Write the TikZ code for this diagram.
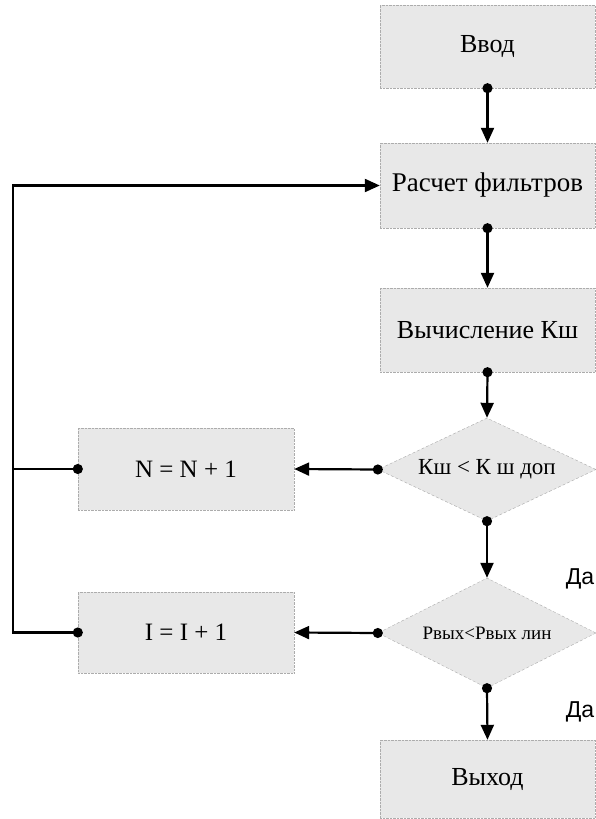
\documentclass[tikz,border=0pt]{standalone}
\usepackage{fontspec}
\setmainfont{Liberation Serif}
\newfontfamily\dafont{Liberation Sans}
\usetikzlibrary{shapes.geometric,arrows.meta,positioning}

\tikzset{
  blok/.style={rectangle, draw=gray!65, densely dotted, fill=gray!18,
    minimum width=215pt, minimum height=83pt, inner sep=0pt,
    font=\fontsize{26}{30}\selectfont},
  romb/.style={diamond, draw=gray!65, densely dashed, fill=gray!18,
    minimum width=218pt, aspect=2, inner sep=0pt},
  svyaz/.style={line width=2.2pt, solid,
    {Circle[length=10pt]}-{Triangle[length=15pt,width=13pt]}, shorten <=-5pt},
  vetka/.style={line width=2.2pt, solid, {Circle[length=10pt]}-, shorten <=-5pt},
  da/.style={font=\dafont\fontsize{23}{26}\selectfont}
}

\begin{document}
\begin{tikzpicture}[x=1pt,y=-1pt]
  \useasboundingbox (0,0) rectangle (596,819);
  % main column
  \node[blok] (vvod) at (487.5,46.5) {Ввод};
  \node[blok, minimum height=85pt, font=\fontsize{27}{31}\selectfont] (raschet) at (487.5,185.5) {Расчет фильтров};
  \node[blok, minimum height=84pt] (kshum) at (487.5,330) {Вычисление Кш};
  \node[romb, minimum height=103pt, font=\fontsize{23}{26}\selectfont] (usl1) at (487,469.5) {Кш < К ш доп};
  \node[romb, minimum height=110pt, font=\fontsize{19}{22}\selectfont] (usl2) at (487,633) {Рвых<Рвых лин};
  \node[blok, minimum height=78pt] (vyhod) at (487.5,779) {Выход};
  % left column
  \node[blok, minimum width=216pt, minimum height=82pt, font=\fontsize{25}{29}\selectfont] (nbox) at (186,469) {N = N + 1};
  \node[blok, minimum width=216pt, minimum height=81pt, font=\fontsize{25}{29}\selectfont] (ibox) at (186,632.5) {I = I + 1};
  \coordinate (ugol) at (13,632.5);

  \draw[svyaz] (vvod.south) -- (raschet.north);
  \draw[svyaz] (raschet.south) -- (kshum.north);
  \draw[svyaz] (kshum.south) -- (usl1.north);
  \draw[svyaz] (usl1.south) -- (usl2.north);
  \draw[svyaz] (usl2.south) -- (vyhod.north);
  \draw[svyaz] (usl1.west) -- (nbox.east);
  \draw[svyaz] (usl2.west) -- (ibox.east);
  \draw[svyaz] (ibox.west) -- (ugol) |- (raschet.west);
  \draw[vetka] (nbox.west) -- (nbox.west -| ugol);

  \node[da] at (580,579) {Да};
  \node[da] at (580,712) {Да};
\end{tikzpicture}
\end{document}
